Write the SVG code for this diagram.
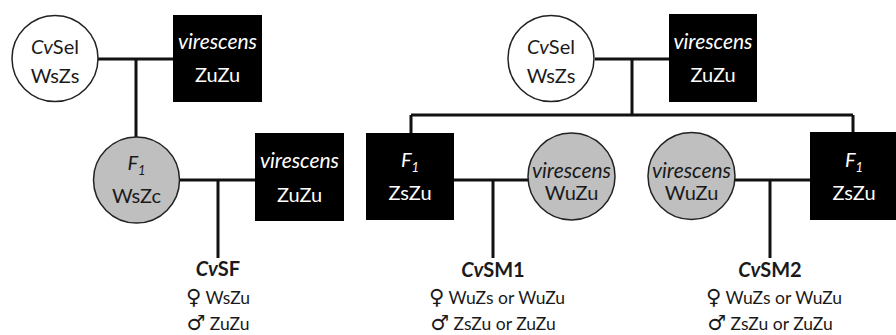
<svg xmlns="http://www.w3.org/2000/svg" width="896" height="335" viewBox="0 0 896 335">
<style>
text{font-family:Lato,"Open Sans","Liberation Sans",sans-serif;font-size:20px;text-anchor:middle}
.w{fill:#fff}
.k{fill:#1a1a1a}
.i{font-style:italic}
.v{font-size:21px}
.b{font-weight:bold}
.lbl{font-size:20px}
.g{font-size:17.5px}
.sym{font-family:"DejaVu Sans",sans-serif;font-size:21px}
.sub{font-size:13px}
.cw{fill:#fff;stroke:#222;stroke-width:1.5}
.cg{fill:#bfbfbf;stroke:#222;stroke-width:1.5}
.sq{fill:#000}
.ln{stroke:#111;stroke-width:3;fill:none}
</style>
<g id="connectors" class="ln">
<path d="M98 59H173M136 59V137M180 180H255M218 180V258"/>
<path d="M595 59H669M632 59V115M411 115H853M411 115V133M853 115V132"/>
<path d="M454 180H528M493 180V258M735 180H810M770 180V258"/>
</g>
<g id="cvsel-left"><circle class="cw" cx="55" cy="58.5" r="43"/><text x="55" y="54" class="k"><tspan class="i">Cv</tspan>Sel</text><text x="55" y="83" class="k">WsZs</text></g>
<g id="virescens-left"><rect class="sq" x="173" y="15" width="89" height="87"/><text x="217.5" y="49" class="w i v">virescens</text><text x="217.5" y="82" class="w">ZuZu</text></g>
<g id="f1-left"><circle class="cg" cx="136.5" cy="180" r="43"/><text x="136.5" y="170" class="k i">F<tspan class="sub" dy="5">1</tspan></text><text x="136.5" y="203" class="k">WsZc</text></g>
<g id="virescens-left2"><rect class="sq" x="255" y="133" width="89" height="88"/><text x="299.5" y="168" class="w i v">virescens</text><text x="299.5" y="202" class="w">ZuZu</text></g>
<g id="cvsf"><text x="218" y="276" class="k b lbl"><tspan class="i">Cv</tspan>SF</text><text x="218" y="304" class="k g"><tspan class="sym">♀</tspan> WsZu</text><text x="218" y="330" class="k g"><tspan class="sym">♂</tspan> ZuZu</text></g>
<g id="cvsel-right"><circle class="cw" cx="551" cy="58.5" r="43"/><text x="551" y="54" class="k"><tspan class="i">Cv</tspan>Sel</text><text x="551" y="83" class="k">WsZs</text></g>
<g id="virescens-right"><rect class="sq" x="669" y="14" width="88" height="88"/><text x="713" y="49" class="w i v">virescens</text><text x="713" y="82" class="w">ZuZu</text></g>
<g id="f1-mid"><rect class="sq" x="366" y="133" width="88" height="87"/><text x="410" y="167" class="w i">F<tspan class="sub" dy="5">1</tspan></text><text x="410" y="200" class="w">ZsZu</text></g>
<g id="virescens-mid"><circle class="cg" cx="571.5" cy="176.5" r="43.5"/><text x="571.5" y="178" class="k i v">virescens</text><text x="571.5" y="200" class="k">WuZu</text></g>
<g id="virescens-right2"><circle class="cg" cx="691.5" cy="176" r="43.5"/><text x="691.5" y="178" class="k i v">virescens</text><text x="691.5" y="200" class="k">WuZu</text></g>
<g id="f1-right"><rect class="sq" x="810" y="132" width="88" height="88"/><text x="854" y="167" class="w i">F<tspan class="sub" dy="5">1</tspan></text><text x="854" y="200" class="w">ZsZu</text></g>
<g id="cvsm1"><text x="493" y="277" class="k b lbl"><tspan class="i">Cv</tspan>SM1</text><text x="497" y="304" class="k g"><tspan class="sym">♀</tspan> WuZs or WuZu</text><text x="493" y="330" class="k g"><tspan class="sym">♂</tspan> ZsZu or ZuZu</text></g>
<g id="cvsm2"><text x="770" y="277" class="k b lbl"><tspan class="i">Cv</tspan>SM2</text><text x="774" y="304" class="k g"><tspan class="sym">♀</tspan> WuZs or WuZu</text><text x="770" y="330" class="k g"><tspan class="sym">♂</tspan> ZsZu or ZuZu</text></g>
</svg>
